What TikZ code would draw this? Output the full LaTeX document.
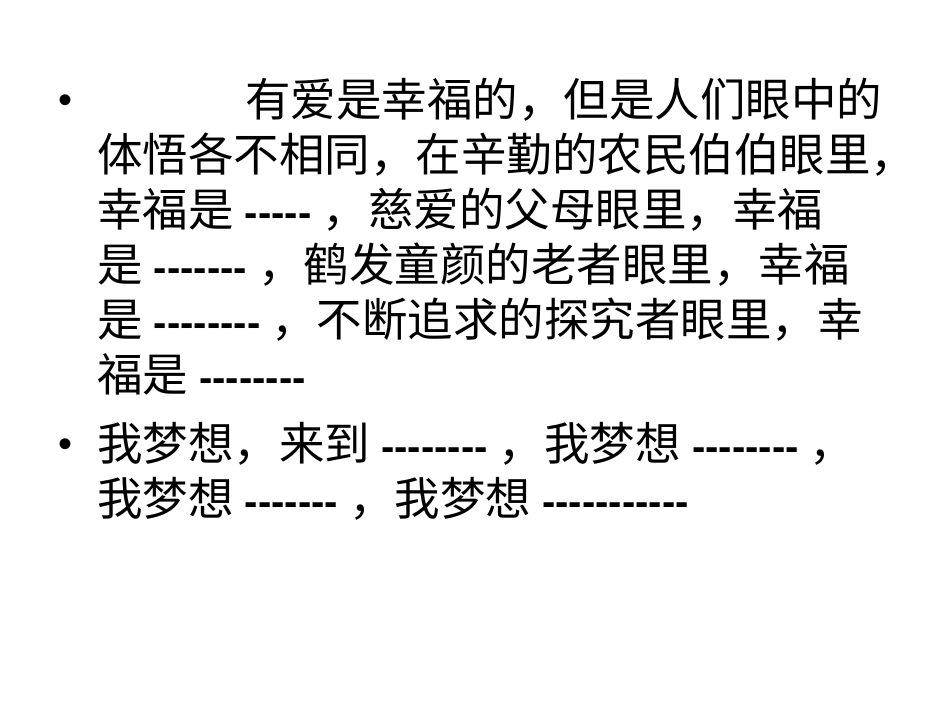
\documentclass[tikz,border=0pt]{standalone}
\usepackage{fontspec}
\setmainfont{Noto Sans CJK SC}
\newfontfamily\lat{Liberation Sans}
\newcommand{\dsh}[1]{{\lat\bfseries\fontsize{40}{40}\selectfont\ #1\ }}
\begin{document}
\begin{tikzpicture}[x=1pt,y=-1pt,
  ln/.style={anchor=base west,inner sep=0pt,font=\fontsize{45.5}{45.5}\selectfont},
  bul/.style={anchor=base west,inner sep=0pt,font=\lat\fontsize{40}{40}\selectfont}]
\useasboundingbox (0,0) rectangle (950,713);
\fill[white] (0,0) rectangle (950,713);
\node[bul] (b1) at (58,113) {•};
\node[ln] (l1) at (245,116) {有爱是幸福的，但是人们眼中的};
\node[ln] (l2) at (97,171) {体悟各不相同，在辛勤的农民伯伯眼里，};
\node[ln] (l3) at (97,226) {幸福是\dsh{-----}，慈爱的父母眼里，幸福};
\node[ln] (l4) at (97,281) {是\dsh{-------}，鹤发童颜的老者眼里，幸福};
\node[ln] (l5) at (97,336) {是\dsh{--------}，不断追求的探究者眼里，幸};
\node[ln] (l6) at (97,391) {福是\dsh{--------}};
\node[bul] (b2) at (58,457) {•};
\node[ln] (l7) at (97,460) {我梦想，来到\dsh{--------}，我梦想\dsh{--------}，};
\node[ln] (l8) at (97,515) {我梦想\dsh{-------}，我梦想\dsh{-----------}};
\end{tikzpicture}
\end{document}
